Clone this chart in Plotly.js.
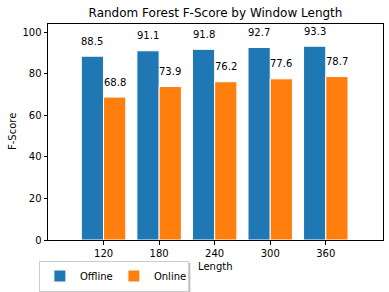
<!DOCTYPE html>
<html><head><meta charset="utf-8">
<script src="https://cdn.plot.ly/plotly-3.0.1.min.js"></script>
<style>html,body{margin:0;padding:0;background:#fff}#c{width:389px;height:292px}</style>
</head><body><div id="c"></div>
<script>
const categories = ["120", "180", "240", "300", "360"];
const offline = [88.5, 91.1, 91.8, 92.7, 93.3];
const online = [68.8, 73.9, 76.2, 77.6, 78.7];
const seriesNames = ["Offline", "Online"];
const colors = ["#1f77b4", "#ff7f0e"];
const xTitle = "Length";
const yTitle = "F-Score";

const font = {family: "DejaVu Sans", size: 10, color: "#000"};
const traces = [offline, online].map((vals, k) => ({
  type: "bar", x: categories, y: vals, name: seriesNames[k],
  marker: {color: colors[k], line: {color: "#fff", width: 1}},
  hoverinfo: "none"
}));

const annotations = [];
[offline, online].forEach((vals, k) => {
  vals.forEach((v, i) => {
    annotations.push({
      x: i + (k === 0 ? -0.2 : 0.2), y: v, xref: "x", yref: "y",
      text: v.toFixed(1), showarrow: false, yanchor: "middle", yshift: 15,
      font: font
    });
  });
});
annotations.push({text: xTitle, xref: "paper", yref: "paper", x: 0.5, y: 0, xanchor: "center", yanchor: "middle",
                  yshift: -26, showarrow: false, font: font});
annotations.push({text: yTitle, xref: "paper", yref: "paper", x: 0, y: 0.5, xanchor: "center", yanchor: "middle",
                  xshift: -36, textangle: -90, showarrow: false, font: font});

const L = 48, R = 6, T = 24, B = 52, W = 389, H = 292;
const layout = {
  width: W, height: H,
  margin: {l: L, r: R, t: T, b: B, pad: 0},
  paper_bgcolor: "#fff", plot_bgcolor: "#fff",
  font: font,
  title: {text: "Random Forest F-Score by Window Length", font: {family: "DejaVu Sans", size: 12, color: "#000"},
          x: 0.5, xref: "paper", y: 1, yref: "paper", yanchor: "bottom", pad: {b: 7}},
  barmode: "group", bargap: 0.2, bargroupgap: 0,
  xaxis: {type: "category", range: [-1, 5.03], showline: true, mirror: true, linecolor: "#000", linewidth: 1,
          ticks: "outside", ticklen: 3.5, tickcolor: "#000", tickfont: font, showgrid: false, zeroline: false,
          automargin: false},
  yaxis: {range: [0, 104], tickvals: [0, 20, 40, 60, 80, 100], showline: true, mirror: true, linecolor: "#000", linewidth: 1,
          ticks: "outside", ticklen: 3.5, tickcolor: "#000", tickfont: font, showgrid: false, zeroline: false,
          automargin: false},
  showlegend: true,
  legend: {orientation: "h", xref: "container", yref: "container", x: 0.1, y: (H - 276) / H, xanchor: "left", yanchor: "middle",
           bgcolor: "#fff", bordercolor: "#cccccc", borderwidth: 1, font: font, traceorder: "normal",
           entrywidth: 29, itemwidth: 30},
  annotations: annotations
};
Plotly.newPlot("c", traces, layout, {displayModeBar: false, staticPlot: true}).then(gd => {
  const bg = gd.querySelector(".legend .bg");
  if (!bg) return;
  const r = bg.getBoundingClientRect();
  const pw = W - L - R, ph = H - T - B;
  const toX = px => (px - L) / pw, toY = py => (H - B - py) / ph;
  Plotly.relayout(gd, {shapes: [{
    type: "rect", xref: "paper", yref: "paper", layer: "above",
    x0: toX(r.left + 2), x1: toX(r.right + 2), y0: toY(r.bottom + 2), y1: toY(r.top + 2),
    fillcolor: "#999", line: {width: 0}, opacity: 0.6
  }]});
});
</script></body></html>
